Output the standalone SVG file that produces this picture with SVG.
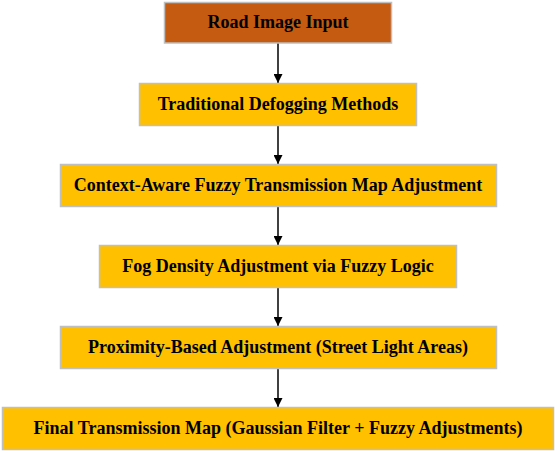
<svg xmlns="http://www.w3.org/2000/svg" width="557" height="453" viewBox="0 0 557 453">
<style>
.box{fill:#FFC000;stroke:#BFBFBF;stroke-width:1.5}
.start{fill:#C55A11;stroke:#BFBFBF;stroke-width:1.5}
.lbl{font-family:"Liberation Serif","Times New Roman",serif;font-weight:bold;font-size:18px;fill:#000;text-anchor:middle}
.conn{stroke:#000;stroke-width:1.5;fill:none;marker-end:url(#ah)}
</style>
<defs>
<marker id="ah" viewBox="0 0 10 10" refX="10" refY="5" markerWidth="9" markerHeight="9" markerUnits="userSpaceOnUse" orient="auto">
<path d="M0,0 L10,5 L0,10 Z" fill="#000"/>
</marker>
</defs>
<rect width="557" height="453" fill="#fff"/>
<g id="connectors">
<line class="conn" x1="278" y1="43" x2="278" y2="83"/>
<line class="conn" x1="278" y1="125.5" x2="278" y2="164"/>
<line class="conn" x1="278" y1="206.5" x2="278" y2="245"/>
<line class="conn" x1="278" y1="287.5" x2="278" y2="326"/>
<line class="conn" x1="278" y1="368.5" x2="278" y2="407"/>
</g>
<g id="n1"><rect class="start" x="164.5" y="2.5" width="227" height="40.5"/><text class="lbl" x="278" y="27.8">Road Image Input</text></g>
<g id="n2"><rect class="box" x="139.5" y="83.5" width="277" height="42"/><text class="lbl" x="278" y="109.5">Traditional Defogging Methods</text></g>
<g id="n3"><rect class="box" x="60.5" y="164.5" width="436" height="42"/><text class="lbl" x="278" y="190.5">Context-Aware Fuzzy Transmission Map Adjustment</text></g>
<g id="n4"><rect class="box" x="99.5" y="245.5" width="357" height="42"/><text class="lbl" x="278" y="271.5">Fog Density Adjustment via Fuzzy Logic</text></g>
<g id="n5"><rect class="box" x="60.5" y="326.5" width="436" height="42"/><text class="lbl" x="278" y="352.5">Proximity-Based Adjustment (Street Light Areas)</text></g>
<g id="n6"><rect class="box" x="2.5" y="407.5" width="551" height="42"/><text class="lbl" x="278" y="433.5">Final Transmission Map (Gaussian Filter + Fuzzy Adjustments)</text></g>
</svg>
